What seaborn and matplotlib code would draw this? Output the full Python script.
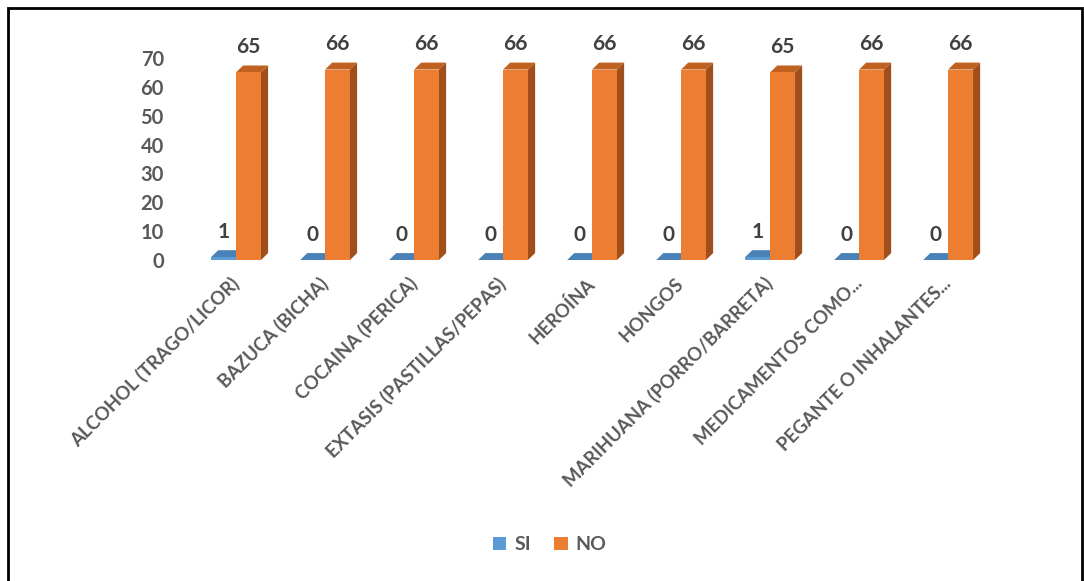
import pandas as pd
import seaborn as sns
import matplotlib.pyplot as plt
from matplotlib.patches import Rectangle, Polygon

# datos
categorias = ["ALCOHOL (TRAGO/LICOR)", "BAZUCA (BICHA)", "COCAINA (PERICA)",
              "EXTASIS (PASTILLAS/PEPAS)", "HEROÍNA", "HONGOS",
              "MARIHUANA (PORRO/BARRETA)", "MEDICAMENTOS COMO...",
              "PEGANTE O INHALANTES..."]
si = [1, 0, 0, 0, 0, 0, 1, 0, 0]
no = [65, 66, 66, 66, 66, 66, 65, 66, 66]
series = ["SI", "NO"]
yticks = [0, 10, 20, 30, 40, 50, 60, 70]

colores = {"SI": "#5B9BD5", "NO": "#ED7D31"}
lados = {"SI": "#41719C", "NO": "#A04E1C"}
techos = {"SI": "#4A82B8", "NO": "#C0611F"}

df = pd.DataFrame({"Categoria": categorias * 2,
                   "Serie": ["SI"] * len(si) + ["NO"] * len(no),
                   "Valor": si + no})

sns.set_style("white")
plt.rcParams['font.family'] = ['Lato', 'DejaVu Sans']

fig = plt.figure(figsize=(10.84, 5.81), dpi=100)
ax = fig.add_axes([0.1767, 0.5525, 0.739, 0.3477])

sns.barplot(data=df, x="Categoria", y="Valor", hue="Serie", hue_order=series,
            palette=colores, width=0.56, saturation=1, ax=ax, zorder=3,
            linewidth=0)

# caras laterales y superiores para simular el efecto 3D
dx, dy = 0.08, 2.4
for cont, serie in zip(ax.containers, series):
    for p in cont:
        x0 = p.get_x()
        x1 = x0 + p.get_width()
        h = p.get_height()
        ax.add_patch(Polygon([(x1, 0), (x1 + dx, dy), (x1 + dx, h + dy), (x1, h)],
                             closed=True, color=lados[serie], lw=0, zorder=2))
        ax.add_patch(Polygon([(x0, h), (x0 + dx, h + dy), (x1 + dx, h + dy), (x1, h)],
                             closed=True, color=techos[serie], lw=0, zorder=2))
    ax.bar_label(cont, fmt="%d", padding=11, fontsize=15, fontweight="bold",
                 color="#404040")

ax.set_ylim(0, 70)
ax.set_xlim(-0.5, len(categorias) - 0.5)
ax.set_yticks(yticks)
ax.set_xlabel("")
ax.set_ylabel("")
sns.despine(ax=ax, left=True, bottom=True)
ax.tick_params(axis="y", length=0, pad=20, labelsize=14.5, labelcolor="#595959")
ax.tick_params(axis="x", length=0, pad=15, labelsize=13.3, labelcolor="#595959")
for t in ax.get_yticklabels():
    t.set_fontweight("bold")
for t in ax.get_xticklabels():
    t.set_fontweight("bold")
    t.set_rotation(45)
    t.set_ha("right")
    t.set_va("center")
    t.set_rotation_mode("anchor")

handles, labels = ax.get_legend_handles_labels()
ax.legend(handles, labels, loc="center", bbox_to_anchor=(0.507, 0.062),
          bbox_transform=fig.transFigure, ncol=2, frameon=False,
          handlelength=0.7, handleheight=0.7, handletextpad=0.4,
          columnspacing=1.2, prop={"weight": "bold", "size": 14},
          labelcolor="#595959")

fig.patches.append(Rectangle((0.0074, -0.01), 0.9908, 0.997, transform=fig.transFigure,
                             fill=False, lw=2, edgecolor="black"))

fig.savefig("out.png", dpi=100)
